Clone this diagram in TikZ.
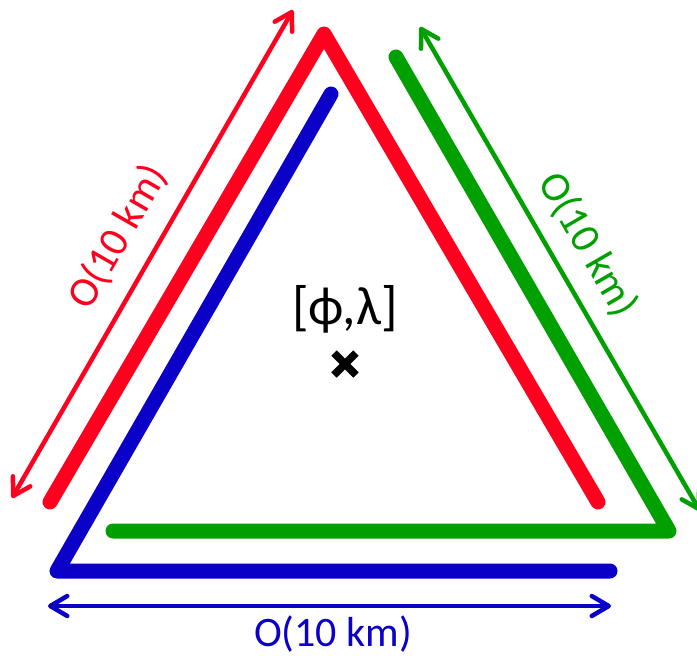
\documentclass[tikz,border=0pt]{standalone}
\usepackage{fontspec}
\setmainfont{Carlito}
\usetikzlibrary{arrows.meta}
\definecolor{cred}{RGB}{255,0,30}
\definecolor{cblue}{RGB}{10,0,200}
\definecolor{cgreen}{RGB}{0,160,0}
\begin{document}
\begin{tikzpicture}[x=1pt,y=-1pt,
  side/.style={line width=15pt, line cap=round, line join=round},
  dim/.style={line width=4.5pt, line cap=round,
    arrows={Straight Barb[length=17pt,width=20pt,round]-Straight Barb[length=17pt,width=20pt,round]}},
  lbl/.style={font=\fontsize{42}{42}\selectfont, inner sep=0pt}]
\useasboundingbox (0,0) rectangle (697,656);
% triangle corners
\coordinate (R1) at (50,502);
\coordinate (R2) at (324,34);
\coordinate (R3) at (598,502);
\coordinate (B1) at (331,94);
\coordinate (B2) at (57,571);
\coordinate (B3) at (610,571);
\coordinate (G1) at (396,57);
\coordinate (G2) at (669,531);
\coordinate (G3) at (113,531);
% dimension arrow ends
\coordinate (ra) at (12,498);
\coordinate (rb) at (293,10);
\coordinate (ga) at (420,27);
\coordinate (gb) at (700,511);
\coordinate (ba) at (48,606);
\coordinate (bb) at (611,606);
% sides
\draw[side, cred] (R1) -- (R2) -- (R3);
\draw[side, cblue] (B1) -- (B2) -- (B3);
\draw[side, cgreen] (G1) -- (G2) -- (G3);
% dimension arrows
\draw[dim, cred] (ra) -- (rb);
\draw[dim, cgreen] (ga) -- (gb);
\draw[dim, cblue] (ba) -- (bb);
% labels
\node[lbl, text=cred, rotate=60] (lr) at (118,237) {O(10 km)};
\node[lbl, text=cgreen, rotate=-60] (lg) at (588,245) {O(10 km)};
\node[lbl, text=cblue] (lb) at (333,634) {O(10 km)};
% location
\node[font=\fontsize{54}{54}\selectfont, inner sep=0pt] (phi) at (345,309) {[ϕ,λ]};
\coordinate (x) at (345,364);
\draw[line width=7.5pt] (x) ++(-11,-11) -- ++(22,22);
\draw[line width=7.5pt] (x) ++(-11,11) -- ++(22,-22);
\end{tikzpicture}
\end{document}
